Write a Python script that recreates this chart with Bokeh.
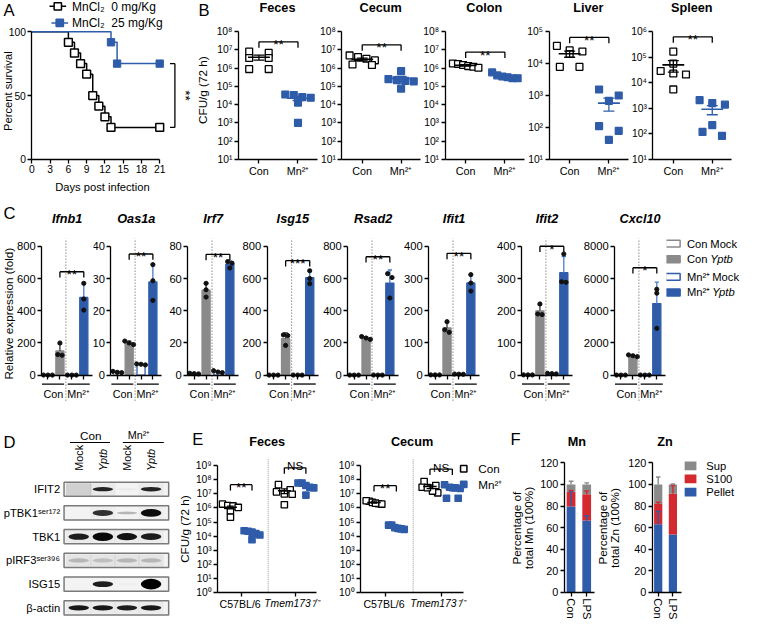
import math
import statistics as st
from bokeh.plotting import figure
from bokeh.models import Range1d, Label, FixedTicker
from bokeh.layouts import row, column
from bokeh.embed import file_html
from bokeh.resources import INLINE

# ------------------------------------------------------------------ DATA
A_DAYS_CON = [0, 6, 7, 8, 9, 10, 11, 12, 13, 21]
A_SURV_CON = [100, 91.7, 83.3, 75.0, 66.7, 50.0, 41.7, 33.3, 25.0, 25.0]
A_DAYS_MN = [0, 13, 14, 21]
A_SURV_MN = [100, 91.7, 75.0, 75.0]
A_XTICKS = [0, 3, 6, 9, 12, 15, 18, 21]
A_YTICKS = [0, 50, 100]
A_LEGEND = ["MnCl\u2082\u00a0 0 mg/Kg", "MnCl\u2082\u00a0 25 mg/Kg"]

B_TISSUES = ["Feces", "Cecum", "Colon", "Liver", "Spleen"]
B_TOP_EXP = [8, 8, 8, 5, 6]
B_CON = [
    [8.1e6, 6.9e6, 3.6e6, 3.6e6, 8.9e5, 8.9e5],
    [2.7e6, 5.0e6, 3.3e6, 4.1e6, 1.5e6, 1.6e6],
    [1.8e6, 1.7e6, 1.5e6, 1.3e6, 1.2e6, 1.05e6],
    [3.6e4, 2.4e4, 2.6e4, 2.0e4, 7.9e3, 7.9e3],
    [1.66e5, 2.9e4, 2.1e4, 5.6e4, 2.3e4, 5.5e3],
]
B_MN = [
    [2.6e4, 3.4e4, 2.4e4, 3.6e4, 1.3e4, 1.0e3],
    [6.9e5, 1.9e5, 2.5e5, 2.0e5, 7.6e4, 2.2e5],
    [5.9e5, 4.0e5, 3.5e5, 2.8e5, 2.8e5, 3.2e5],
    [1.55e3, 1.0e3, 6.8e2, 1.1e2, 7.8e1, 4.1e1],
    [2.1e3, 1.4e3, 1.6e3, 2.2e2, 8.3e1, 1.2e2],
]
B_SIG_Y = [2.8e7, 1.9e7, 7.6e6, 6.6e4, 6.3e5]
B_SIG_TXT = ["**", "**", "**", "**", "**"]
B_XLABELS = ["Con", "Mn\u00b2\u207a"]

C_GENES = ["Ifnb1", "Oas1a", "Irf7", "Isg15", "Rsad2", "Ifit1", "Ifit2", "Cxcl10"]
C_YMAX = [800, 40, 80, 800, 800, 400, 400, 8000]
C_CON_MOCK = [[1.2, 0.9, 1.0], [1.2, 0.8, 0.9], [1.2, 1.0, 0.8], [1.1, 0.9, 1.0],
              [1.1, 0.9, 1.0], [1.1, 0.9, 1.0], [1.0, 1.1, 0.9], [12, 9, 10]]
C_CON_YPTB = [[200, 124, 128], [10.6, 10.0, 9.5], [57, 53, 48.5], [250, 246, 185],
              [240, 231, 222], [166, 141, 133], [221, 190, 188], [1260, 1210, 1150]]
C_MN_MOCK = [[1.1, 0.8, 1.0], [3.5, 3.4, 3.2], [2.8, 2.0, 1.6], [1.2, 0.8, 1.0],
             [1.2, 1.0, 0.9], [3.8, 3.2, 2.9], [6.0, 5.0, 4.2], [14, 10, 11]]
C_MN_YPTB = [[570, 473, 404], [34.3, 29.3, 23.2], [70.5, 69.5, 66.5], [648, 600, 568],
             [630, 606, 479], [312, 286, 261], [376, 290, 288], [5333, 5090, 2909]]
C_SIG_Y = [642, 37.6, 75, 711, 735, 378, 400, 6667]
C_SIG_TXT = ["**", "**", "**", "***", "**", "**", "*", "*"]
C_GROUPS = ["Con", "Mn\u00b2\u207a"]
C_LEGEND = [("Con ", "Mock"), ("Con ", "Yptb"), ("Mn\u00b2\u207a ", "Mock"), ("Mn\u00b2\u207a ", "Yptb")]

D_ROWS = ["IFIT2", "pTBK1\u02e2\u1d49\u02b3\u00b9\u2077\u00b2", "TBK1",
          "pIRF3\u02e2\u1d49\u02b3\u00b3\u2079\u2076", "ISG15", "\u03b2-actin"]
D_LANES = ["Mock", "Yptb", "Mock", "Yptb"]
D_GROUPS = ["Con", "Mn\u00b2\u207a"]
D_BAND = [[0.0, 0.85, 0.03, 0.85], [0.0, 0.8, 0.25, 0.95], [0.88, 0.97, 0.92, 0.88],
          [0.2, 0.16, 0.2, 0.2], [0.0, 0.88, 0.02, 1.0], [0.9, 0.9, 0.88, 0.9]]
D_THICK = [[0.2, 0.3, 0.2, 0.32], [0.2, 0.42, 0.2, 0.55], [0.45, 0.6, 0.5, 0.48],
           [0.3, 0.3, 0.3, 0.3], [0.2, 0.42, 0.2, 0.75], [0.38, 0.38, 0.38, 0.38]]
D_BG = [[0.14, 0.04, 0.0, 0.03], [0.0, 0.02, 0.0, 0.02], [0.03, 0.03, 0.03, 0.03],
        [0.06, 0.06, 0.06, 0.06], [0.0, 0.0, 0.0, 0.0], [0.03, 0.03, 0.03, 0.03]]

E_TISSUES = ["Feces", "Cecum"]
E_WT_CON = [[1.9e6, 1.5e6, 1.4e6, 1.1e6, 6.5e5, 2.2e5], [3.0e6, 3.3e6, 2.5e6, 2.0e6, 1.9e6, 2.2e6]]
E_WT_MN = [[2.4e4, 1.9e4, 2.2e4, 1.2e4, 1.5e4, 5.5e3], [6.0e4, 6.0e4, 3.5e4, 3.0e4, 4.0e4, 3.3e4]]
E_KO_CON = [[4.6e7, 2.0e7, 1.4e7, 1.0e7, 9.5e6, 1.7e6], [7.7e7, 3.0e7, 1.2e7, 1.6e7, 2.8e7, 4.0e7]]
E_KO_MN = [[6.0e7, 6.0e7, 4.0e7, 3.0e7, 2.7e7, 8.3e6], [4.5e7, 3.0e7, 2.7e7, 2.5e7, 4.9e6, 4.9e6]]
E_SIG_Y = [[4.6e7, 7.2e8], [3.9e7, 5.9e8]]
E_SIG_TXT = ["**", "NS"]
E_GROUPS = ["C57BL/6", "Tmem173\u207b/\u207b"]
E_LEGEND = ["Con", "Mn\u00b2\u207a"]

F_CATS = ["Con", "LPS"]
F_PARTS = ["Pellet", "S100", "Sup"]
F_MN = [[79.5, 66.5], [14.0, 24.5], [6.5, 9.0]]
F_MN_SD = [[14.0, 4.5], [1.0, 3.0], [3.0, 1.5]]
F_ZN = [[63.0, 53.5], [19.0, 38.0], [18.0, 8.5]]
F_ZN_SD = [[12.0, 0.0], [1.5, 7.5], [7.0, 0.5]]
F_YTICKS = [0, 20, 40, 60, 80, 100, 120]

# ------------------------------------------------------------------ STYLE / HELPERS
FONT = "Liberation Sans"
SX = 740 / 757
SY = 620 / 636
BLUE = "#2f5ca9"
BLUE_L = "#4a7bcc"
GREY = "#8a8a8a"
RED = "#d42a2f"
F_COLORS = [BLUE, RED, GREY]
SUP = str.maketrans("0123456789+-", "\u2070\u00b9\u00b2\u00b3\u2074\u2075\u2076\u2077\u2078\u2079\u207a\u207b")


def PX(v):
    return int(round(v * SX))


def PY(v):
    return int(round(v * SY))


def fs(s):
    return "%.1fpx" % (s * SX)


class Panel:
    """A figure whose frame fills its whole cell; axes sit at fixed data locations."""

    def __init__(self, cell, box, xcal, ycal, ylog=False, xaxis=True, yaxis=True):
        self.xcal, self.ycal, self.ylog = xcal, ycal, ylog
        cx0, cy0, cx1, cy1 = cell
        bx0, by0, bx1, by1 = box
        p = figure(frame_width=PX(cx1) - PX(cx0), frame_height=PY(cy1) - PY(cy0),
                   min_border=0, title=None,
                   x_range=Range1d(self.fx(cx0), self.fx(cx1)),
                   y_range=Range1d(self.fy(cy1), self.fy(cy0)),
                   y_axis_type="log" if ylog else "linear",
                   x_axis_location="below" if xaxis else None,
                   y_axis_location="left" if yaxis else None,
                   output_backend="svg", toolbar_location=None)
        p.outline_line_color = None
        p.background_fill_color = "white"
        p.border_fill_color = "white"
        for g in p.grid:
            g.visible = False
        for ax in p.axis:
            ax.axis_line_color = "black"
            ax.axis_line_width = 1.3
            ax.major_tick_line_color = "black"
            ax.major_tick_line_width = 1.3
            ax.major_tick_out = 4
            ax.major_tick_in = 0
            ax.minor_tick_line_color = None
            ax.major_label_text_font = FONT
            ax.major_label_text_font_size = fs(10.5)
            ax.major_label_text_color = "black"
            ax.major_label_standoff = 2
        for ax in p.xaxis:
            ax.fixed_location = self.fy(by1)
            ax.bounds = (self.fx(bx0), self.fx(bx1))
        for ax in p.yaxis:
            ax.fixed_location = self.fx(bx0)
            ax.bounds = (self.fy(by1), self.fy(by0))
        self.p = p

    def fx(self, px):
        a, va, b, vb = self.xcal
        return va + (px - a) * (vb - va) / (b - a)

    def fy(self, py):
        a, va, b, vb = self.ycal
        if self.ylog:
            la, lb = math.log10(va), math.log10(vb)
            return 10 ** (la + (py - a) * (lb - la) / (b - a))
        return va + (py - a) * (vb - va) / (b - a)

    def px(self, x):
        a, va, b, vb = self.xcal
        return a + (x - va) * (b - a) / (vb - va)

    def py(self, y):
        a, va, b, vb = self.ycal
        if self.ylog:
            la, lb = math.log10(va), math.log10(vb)
            return a + (math.log10(y) - la) * (b - a) / (lb - la)
        return a + (y - va) * (b - a) / (vb - va)

    def dx(self, d):
        a, va, b, vb = self.xcal
        return d * (vb - va) / (b - a)

    def dy(self, d):
        a, va, b, vb = self.ycal
        return abs(d * (vb - va) / (b - a))

    def text(self, x, y, t, size, align="center", baseline="middle", angle=0.0,
             style="normal", color="black"):
        self.p.add_layout(Label(x=self.fx(x), y=self.fy(y), text=t, text_font=FONT,
                                text_font_size=fs(size), text_align=align,
                                text_baseline=baseline, angle=angle,
                                text_font_style=style, text_color=color))


def spread(ypx, thresh, step, span):
    order = sorted(range(len(ypx)), key=lambda i: ypx[i])
    groups = []
    for i in order:
        if groups and abs(ypx[i] - ypx[groups[-1][0]]) < thresh:
            groups[-1].append(i)
        else:
            groups.append([i])
    offs = [0.0] * len(ypx)
    for g in groups:
        n = len(g)
        if n > 1:
            sp = min(step, span / (n - 1))
            for j, i in enumerate(g):
                offs[i] = (j - (n - 1) / 2.0) * sp
    return offs


def swarm(P, xc, vals, filled, size, step, span, half, cap):
    ypx = [P.py(v) for v in vals]
    offs = spread(ypx, size * 0.9, step, span)
    xs = [xc + P.dx(o) for o in offs]
    col = BLUE if filled else "black"
    P.p.scatter(xs, vals, marker="square", size=size * SX,
                fill_color=BLUE if filled else "white", line_color=col, line_width=1.3)
    m = st.mean(vals)
    se = st.stdev(vals) / math.sqrt(len(vals))
    lo, hi = max(m - se, m * 0.05), m + se
    P.p.segment([xc - half], [m], [xc + half], [m], line_color=col, line_width=1.6)
    P.p.segment([xc, xc - cap, xc - cap], [lo, hi, lo], [xc, xc + cap, xc + cap], [hi, hi, lo],
                line_color=col, line_width=1.3)


def bracket(P, x0, x1, y, txt, tick=6, size=14):
    yl = P.fy(P.py(y) + tick)
    P.p.segment([x0, x0, x1], [y, yl, yl], [x1, x0, x1], [y, y, y], line_color="black", line_width=1.3)
    if txt == "NS":
        P.text(P.px((x0 + x1) / 2), P.py(y) - 2, txt, 12, baseline="alphabetic")
    else:
        P.text(P.px((x0 + x1) / 2), P.py(y) + 3, txt, size, baseline="alphabetic")


def log_axis(P, lo, hi):
    ax = P.p.yaxis[0]
    ticks = [10 ** k for k in range(lo, hi + 1)]
    ax.ticker = FixedTicker(ticks=ticks)
    ax.major_label_overrides = {10 ** k: "10" + str(k).translate(SUP) for k in range(lo, hi + 1)}


# ------------------------------------------------------------------ PANEL A
A = Panel((0, 0, 198, 198), (32, 32, 162.5, 163), (32, 0, 162.5, 21), (163, 0, 32, 100))
pa = A.p
pa.xaxis.ticker = FixedTicker(ticks=A_XTICKS)
pa.yaxis.ticker = FixedTicker(ticks=A_YTICKS)
pa.step(A_DAYS_CON, A_SURV_CON, mode="after", line_color="black", line_width=1.5)
pa.scatter(A_DAYS_CON[1:], A_SURV_CON[1:], marker="square", size=8 * SX, fill_color="white",
           line_color="black", line_width=1.5)
pa.step(A_DAYS_MN, A_SURV_MN, mode="after", line_color=BLUE, line_width=1.5)
pa.scatter(A_DAYS_MN[1:], A_SURV_MN[1:], marker="square", size=7.5 * SX, color=BLUE)
for k, (ly, col) in enumerate([(6, "black"), (23, BLUE)]):
    yv = A.fy(ly)
    pa.line([A.fx(50 + 2 * k), A.fx(67 + 2 * k)], [yv, yv], line_color=col, line_width=1.5)
    pa.scatter([A.fx(58.5 + 2 * k)], [yv], marker="square", size=7.5 * SX,
               fill_color="white" if k == 0 else BLUE, line_color=col, line_width=1.5)
    A.text(73, ly + 0.5, A_LEGEND[k], 12.3, align="left")
xb, xt = A.fx(178), A.fx(173)
ya, yb = A_SURV_MN[-1], A_SURV_CON[-1]
pa.segment([xb, xt, xt], [ya, ya, yb], [xb, xb, xb], [yb, ya, yb], line_color="black", line_width=1.3)
A.text(189, A.py((ya + yb) / 2), "**", 14, angle=-math.pi / 2)
A.text(3, 1, "A", 17, align="left", baseline="top")
A.text(104, 191, "Days post infection", 11.5)
A.text(8, 93, "Percent survival", 11.5, angle=math.pi / 2)

# ------------------------------------------------------------------ PANEL B
B_CELLS = [198, 325, 431, 537, 643, 757]
B_figs = []
for i, tname in enumerate(B_TISSUES):
    fl = 243 + 106 * i
    P = Panel((B_CELLS[i], 0, B_CELLS[i + 1], 198), (fl, 32, fl + 81, 163),
              (fl + 21, 0, fl + 61, 1), (163, 10, 32, 10 ** B_TOP_EXP[i]), ylog=True)
    log_axis(P, 1, B_TOP_EXP[i])
    P.p.xaxis.ticker = FixedTicker(ticks=[0, 1])
    P.p.xaxis.major_label_overrides = {0: B_XLABELS[0], 1: B_XLABELS[1]}
    P.p.xaxis.major_label_text_font_size = fs(11)
    swarm(P, 0, B_CON[i], False, 7, 20, 26, 0.28, 0.14)
    swarm(P, 1, B_MN[i], True, 7, 20, 26, 0.28, 0.14)
    bracket(P, 0, 1, B_SIG_Y[i], B_SIG_TXT[i])
    P.text(fl + 40, 8, tname, 13, style="bold")
    if i == 0:
        P.text(206, 92, "CFU/g (72 h)", 12, angle=math.pi / 2)
        P.text(202, 0, "B", 17, align="left", baseline="top")
    B_figs.append(P.p)

# ------------------------------------------------------------------ PANEL C
C_CELLS = [0, 95, 166, 245, 326, 408, 491, 586, 681, 757]
C_AX = [42, 113, 192, 273, 355, 438, 533, 628]
C_STYLES = [dict(fill_color="white", line_color=GREY), dict(fill_color=GREY, line_color=GREY),
            dict(fill_color="white", line_color=BLUE), dict(fill_color=BLUE, line_color=BLUE)]
C_ERRC = ["#555555", "#3a3a3a", BLUE, BLUE_L]
C_figs = []
for i, gene in enumerate(C_GENES):
    fl = C_AX[i]
    ymax = C_YMAX[i]
    P = Panel((C_CELLS[i], 198, C_CELLS[i + 1], 416), (fl, 252, fl + 52, 384),
              (fl + 6.5, 0, fl + 6.5 + 36.6, 3), (384, 0, 252, ymax))
    p = P.p
    ax = p.yaxis[0]
    ax.ticker = FixedTicker(ticks=[ymax * k / 4 for k in range(5)])
    ax.major_label_text_font_size = fs(11.5)
    xa = p.xaxis[0]
    xa.ticker = FixedTicker(ticks=[0, 1, 2, 3])
    xa.major_label_text_color = None
    groups = [C_CON_MOCK[i], C_CON_YPTB[i], C_MN_MOCK[i], C_MN_YPTB[i]]
    for j, vals in enumerate(groups):
        m = st.mean(vals)
        sd = st.stdev(vals)
        p.vbar(x=[j], top=[m], bottom=0, width=0.68, line_width=1.3, **C_STYLES[j])
        p.segment([j, j - 0.18], [m, m + sd], [j, j + 0.18], [m + sd, m + sd],
                  line_color=C_ERRC[j], line_width=1.3)
    for j, vals in enumerate(groups):
        ypx = [P.py(v) for v in vals]
        offs = spread(ypx, 4, 4.5, 9)
        p.scatter([j + P.dx(o) for o in offs], vals, marker="circle", size=4.3 * SX,
                  color="#111111")
    p.segment([1.5], [P.fy(410)], [1.5], [P.fy(244)], line_color="#555555", line_width=1,
              line_dash="1 2")
    yu = P.fy(393)
    p.segment([-0.5, 1.65], [yu, yu], [1.35, 3.5], [yu, yu], line_color="black", line_width=1.3)
    P.text(P.px(0.45), 403, C_GROUPS[0], 11)
    P.text(P.px(1.62), 403, C_GROUPS[1], 11, align="left")
    bracket(P, 1, 3, C_SIG_Y[i], C_SIG_TXT[i])
    P.text(fl + 26, 224, gene, 13, style="bold italic")
    if i == 0:
        P.text(3, 209, "C", 17, align="left", baseline="top")
        P.text(8, 321, "Relative expression (fold)", 12, angle=math.pi / 2)
    C_figs.append(p)

CL = Panel((681, 198, 757, 416), (681, 198, 757, 416), (0, 0, 1, 1), (0, 0, 1, 1),
           xaxis=False, yaxis=False)
CL_Y = [249.3, 265.3, 283.3, 299.3]
for k, (a, b) in enumerate(C_LEGEND):
    CL.p.rect([687.5], [CL_Y[k]], width=15, height=7, line_width=1.5, **C_STYLES[k])
    CL.text(702, CL_Y[k], a, 11.5, align="left")
    CL.text(726 if k < 2 else 728, CL_Y[k], b, 11.5, align="left",
            style="italic" if b == "Yptb" else "normal")

# ------------------------------------------------------------------ PANEL D
D = Panel((0, 416, 180, 636), (0, 416, 180, 636), (80, 0, 154, 3), (501, 0, 623, 5),
          xaxis=False, yaxis=False)
pd_ = D.p
nr, nl = len(D_ROWS), len(D_LANES)
box_h = D.dy(14.5)
pd_.rect([D.fx(118.5)] * nr, list(range(nr)), width=D.dx(107), height=box_h,
         fill_color="#f3f3f3", line_color="#7a7a7a", line_width=1.5)
bx, by, ba, bh, ga = [], [], [], [], []
for r in range(nr):
    for l in range(nl):
        bx.append(l); by.append(r); ba.append(D_BAND[r][l]); bh.append(D_THICK[r][l] * box_h)
        ga.append(D_BG[r][l])
pd_.rect(bx, by, width=D.dx(26), height=box_h * 0.85, fill_color="black", fill_alpha=ga,
         line_color=None)
pd_.ellipse(bx, by, width=D.dx(21), height=bh, fill_color="black", fill_alpha=ba, line_color=None)
for r, name in enumerate(D_ROWS):
    D.text(61, D.py(r), name, 11.5, align="right")
for l, lane in enumerate(D_LANES):
    D.text(D.px(l), 482, lane, 11, align="left", angle=math.pi / 2,
           style="italic" if lane == "Yptb" else "normal")
D.text(D.px(0.5), 445.5, D_GROUPS[0], 12)
D.text(D.px(2.5), 445.5, D_GROUPS[1], 11)
yh = D.fy(453)
pd_.segment([D.fx(71), D.fx(125)], [yh, yh], [D.fx(112), D.fx(167)], [yh, yh],
            line_color="black", line_width=1.2)
D.text(3, 443, "D", 17, align="left", baseline="top")

# ------------------------------------------------------------------ PANEL E
E_CELLS = [(180, 333), (333, 520)]
E_BOXES = [(222, 477, 323, 607), (368, 477, 473.8, 607)]
E_XCAL = [(235, 0, 257, 1), (381.8, 0, 404.8, 1)]
E_POS = [0, 1, 2.5, 3.5]
E_figs = []
for k, tname in enumerate(E_TISSUES):
    cx0, cx1 = E_CELLS[k]
    bxs = E_BOXES[k]
    P = Panel((cx0, 416, cx1, 636), bxs, E_XCAL[k], (607, 1, 477, 1e9), ylog=True)
    log_axis(P, 0, 9)
    xa = P.p.xaxis[0]
    xa.ticker = FixedTicker(ticks=[0.5, 3.0])
    xa.major_label_text_color = None
    P.p.segment([1.75], [1], [1.75], [P.fy(470)], line_color="#aaaaaa", line_width=1.2,
                line_dash="1 1")
    sets = [E_WT_CON[k], E_WT_MN[k], E_KO_CON[k], E_KO_MN[k]]
    for j, vals in enumerate(sets):
        swarm(P, E_POS[j], vals, j % 2 == 1, 6.5, 12, 16, 0.3, 0.15)
    bracket(P, E_POS[0], E_POS[1], E_SIG_Y[k][0], E_SIG_TXT[0])
    bracket(P, E_POS[2], E_POS[3], E_SIG_Y[k][1], E_SIG_TXT[1])
    P.text(P.px(0.45), 613, E_GROUPS[0], 10.8, baseline="top")
    P.text(P.px(2.85), 613, E_GROUPS[1], 10.5, baseline="top", style="italic")
    P.text((bxs[0] + bxs[2]) / 2, 452, tname, 13, style="bold")
    if k == 0:
        P.text(188, 542, "CFU/g (72 h)", 12, angle=math.pi / 2)
        P.text(196, 440, "E", 17, align="left", baseline="top")
    else:
        for n, (ly, fill) in enumerate([(480, "white"), (496, BLUE)]):
            P.p.scatter([P.fx(474)], [P.fy(ly)], marker="square", size=6.5 * SX, fill_color=fill,
                        line_color="black" if n == 0 else BLUE, line_width=1.5)
            P.text(489, ly, E_LEGEND[n], 12, align="left")
    E_figs.append(P.p)

# ------------------------------------------------------------------ PANEL F
F_SPECS = [("Mn", (520, 609), (577, 474, 608, 607), (584, 0, 600, 1), F_MN, F_MN_SD),
           ("Zn", (609, 757), (667, 474, 697, 607), (673, 0, 688, 1), F_ZN, F_ZN_SD)]
F_figs = []
for k, (metal, (cx0, cx1), bxs, xc, vals, sds) in enumerate(F_SPECS):
    P = Panel((cx0, 416, cx1, 636), bxs, xc, (607, 0, 474, 120))
    p = P.p
    p.yaxis.ticker = FixedTicker(ticks=F_YTICKS)
    p.yaxis.major_label_text_font_size = fs(11)
    p.xaxis.ticker = FixedTicker(ticks=[0, 1])
    p.xaxis.major_label_overrides = {0: F_CATS[0], 1: F_CATS[1]}
    p.xaxis.major_label_orientation = "vertical"
    p.xaxis.major_label_text_font_size = fs(11.5)
    base = [0.0, 0.0]
    for s in range(3):
        tops = [base[c] + vals[s][c] for c in range(2)]
        p.vbar(x=[0, 1], bottom=base, top=tops, width=0.56, fill_color=F_COLORS[s],
               line_color=None)
        base = tops
    base = [0.0, 0.0]
    for s in range(3):
        tops = [base[c] + vals[s][c] for c in range(2)]
        for c in range(2):
            if sds[s][c] > 0.2:
                hi = tops[c] + sds[s][c]
                p.segment([c, c - 0.15], [tops[c], hi], [c, c + 0.15], [hi, hi],
                          line_color=F_COLORS[s], line_width=1.4)
        base = tops
    P.text(590 if k == 0 else 680, 453, metal, 13, style="bold")
    xl = 528 if k == 0 else 616
    P.text(xl, 541, "Percentage of", 12, angle=math.pi / 2)
    P.text(xl + 12, 541, "total %s (100%%)" % metal, 12, angle=math.pi / 2)
    if k == 0:
        P.text(522, 440, "F", 17, align="left", baseline="top")
    else:
        for n, ly in enumerate([477, 490.5, 504]):
            s = 2 - n
            p.rect([P.fx(706)], [P.fy(ly)], width=P.dx(12), height=P.dy(9),
                   fill_color=F_COLORS[s], line_color=None)
            P.text(722, ly, F_PARTS[s], 11.5, align="left")
    F_figs.append(p)

layout = column(row(A.p, *B_figs), row(*C_figs, CL.p), row(D.p, *E_figs, *F_figs))
open("out.html", "w").write(file_html(layout, INLINE, "figure"))
